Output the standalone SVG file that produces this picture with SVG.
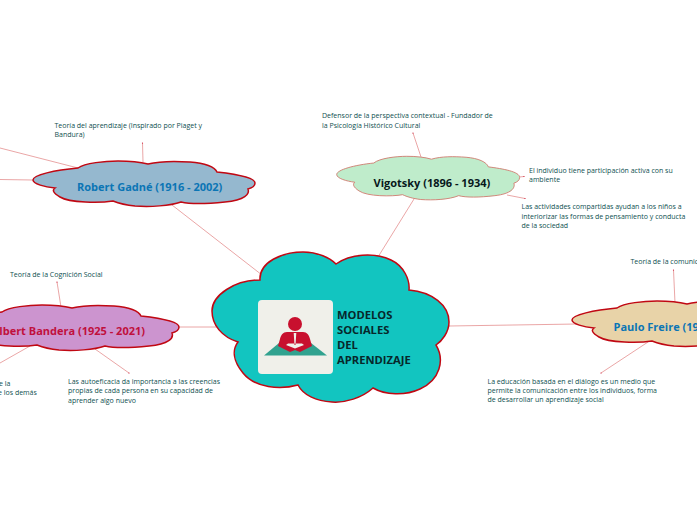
<svg xmlns="http://www.w3.org/2000/svg" width="697" height="520" viewBox="0 0 697 520">
<style>
.c{fill:none;stroke:#e58f8f;stroke-width:.8}
.d{fill:#c8102e}
.t{font-family:"Open Sans","Noto Sans",sans-serif;font-size:7px;fill:#0e4f4f}
.h{font-family:"Open Sans","Noto Sans",sans-serif;font-size:11px;font-weight:700}
.m{font-family:"Open Sans","Noto Sans",sans-serif;font-size:11.2px;font-weight:700;fill:#07282b}
.o{stroke:#c00813;stroke-width:1.5}
</style>
<defs>
<path id="cl" d="M78,168C85,163 105,161 118,161C130,161 140,162 148,164C160,161 175,161 190,162C205,163 215,167 217,172C235,174 255,177 255,183C255,186 252,188 248,189C250,194 245,200 225,202C205,204 190,204 181,202C170,206 150,207 135,206C125,205 118,203 113,201C100,203 70,203 60,197C53,193 52,190 55,188C45,187 33,184 33,180C33,175 55,170 78,168Z"/>
</defs>
<g id="connectors">
<path class="c" d="M172,205L262,275M78,168L0,148M33,180L0,179.5M143,162L142.500,143M378,257L414,199M421,157L413,133M519,177L524,176.500M507,195L525,198.500M179,327L217,327M61,307L57,282M30,346L0,363M95,349L129,373M449,326L577,324M675,303L673.500,270M648,342L601,373"/>
<circle class="d" cx="142.500" cy="143" r=".6"/><circle class="d" cx="413" cy="133" r=".6"/><circle class="d" cx="524" cy="176.500" r=".6"/><circle class="d" cx="525" cy="198.500" r=".6"/><circle class="d" cx="57" cy="282" r=".6"/><circle class="d" cx="129" cy="373" r=".6"/><circle class="d" cx="673.500" cy="270" r=".6"/><circle class="d" cx="601" cy="373" r=".6"/>
</g>
<g id="center">
<path class="o" fill="#12c5c0" d="M260,280C259,262 282,252 303,252C318,252 330,258 336,264C350,254 374,252 391,260C404,266 410,280 409,290C432,292 449,305 449,322C449,332 442,341 436,345C445,360 440,380 420,389C405,396 385,395 373,388C362,398 345,403 332,402C316,401 303,395 298,385C280,390 255,388 243,373C233,361 232,350 238,342C222,337 212,325 212,311C212,295 235,280 260,280Z"/>
<rect x="258" y="300" width="75" height="74" rx="4" fill="#f0f0ea"/>
<path d="M279,343H311L327,355.500H264Z" fill="#31a28f"/>
<circle cx="295" cy="324" r="7" fill="#c8102e"/>
<path d="M287,332H303C307,332 309,335 310,339L312,346L300,352L295,350L290,352L278,346L280,339C281,335 283,332 287,332Z" fill="#c8102e"/>
<path d="M293.700,333H296.300L295.500,345H294.500ZM286,345L295,348.500L304,345L302,343.500H288Z" fill="#f0f0ea"/>
<text class="m" x="337" y="319">MODELOS</text><text class="m" x="337" y="334">SOCIALES</text><text class="m" x="337" y="349">DEL</text><text class="m" x="337" y="364">APRENDIZAJE</text>
</g>
<g id="gagne">
<use href="#cl" class="o" fill="#95b8cf"/>
<text class="h" x="77" y="191" fill="#0b75b5">Robert Gadné (1916 - 2002)</text>
<text class="t" x="54.500" y="128">Teoría del aprendizaje (Inspirado por Piaget y</text><text class="t" x="54.500" y="136.500">Bandura)</text>
</g>
<g id="vigotsky">
<use href="#cl" transform="translate(336.700 156.300) scale(.824 .96) translate(-33 -161)" fill="#bfeccb" stroke="#cf7a6e" stroke-width="1"/>
<text class="h" x="373.500" y="186.500" fill="#07181c">Vigotsky (1896 - 1934)</text>
<text class="t" x="322" y="118">Defensor de la perspectiva contextual - Fundador de</text><text class="t" x="322" y="128">la Psicología Histórico Cultural</text>
<text class="t" x="529" y="173">El individuo tiene participación activa con su</text><text class="t" x="529" y="182">ambiente</text>
<text class="t" x="521.500" y="209">Las actividades compartidas ayudan a los niños a</text><text class="t" x="521.500" y="218.500">interiorizar las formas de pensamiento y conducta</text><text class="t" x="521.500" y="228">de la sociedad</text>
</g>
<g id="bandera">
<use href="#cl" class="o" transform="translate(-76 144)" fill="#cc94cf"/>
<text class="h" x="145" y="335" text-anchor="end" fill="#c0103c">Albert Bandera (1925 - 2021)</text>
<text class="t" x="10" y="277">Teoría de la Cognición Social</text>
<text class="t" x="-1" y="386">e la</text><text class="t" x="-2" y="395">e los demás</text>
<text class="t" x="68" y="383.500">Las autoeficacia da importancia a las creencias</text><text class="t" x="68" y="393">propias de cada persona en su capacidad de</text><text class="t" x="68" y="402.500">aprender algo nuevo</text>
</g>
<g id="freire">
<use href="#cl" class="o" transform="translate(539 140)" fill="#e8d3a8"/>
<text class="h" x="613.500" y="331" fill="#0b75b5">Paulo Freire (1921 - 1997)</text>
<text class="t" x="630.500" y="264">Teoría de la comunicación</text>
<text class="t" x="487.500" y="383.500">La educación basada en el diálogo es un medio que</text><text class="t" x="487.500" y="392.500">permite la comunicación entre los individuos, forma</text><text class="t" x="487.500" y="402">de desarrollar un aprendizaje social</text>
</g>
</svg>
